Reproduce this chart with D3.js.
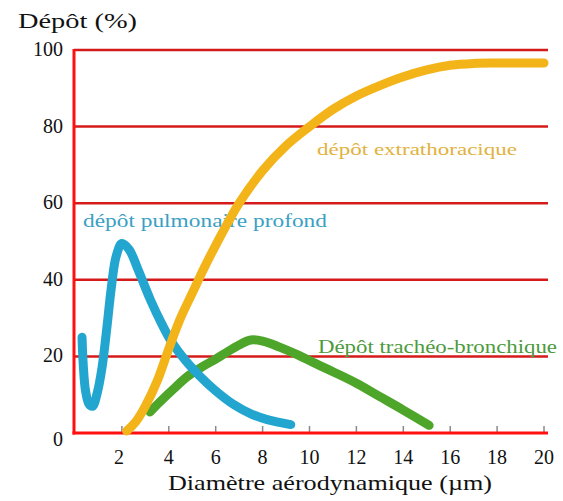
<!DOCTYPE html>
<html><head><meta charset="utf-8">
<script src="https://cdn.jsdelivr.net/npm/d3@7"></script>
<style>body{margin:0;background:#fff;}svg{display:block;}</style>
</head><body>
<svg id="c" width="563" height="501"></svg>
<script>
const xTicks = [2,4,6,8,10,12,14,16,18,20];
const yTicks = [0,20,40,60,80,100];
const extrathoracique = [[2.2,0.5],[2.6,3],[3,7],[3.5,13.5],[4,22],[4.5,30],[5,36.5],[5.5,43],[6,49],[7,60],[8,68.5],[9,75],[10,80],[11,84.5],[12,88],[13,90.7],[14,93],[15,94.8],[16,96],[17,96.5],[18,96.6],[20,96.6]];
const pulmonaire = [[0.3,25],[0.35,18],[0.45,11],[0.6,7.5],[0.75,7],[0.95,10.5],[1.15,17],[1.35,27],[1.55,38],[1.75,46],[2.0,49.5],[2.3,48],[2.7,42.5],[3.2,35],[3.7,28.5],[4.1,24],[4.7,19],[5.3,15],[6,11],[6.75,7.5],[7.5,5],[8.2,3.5],[9.2,2.2]];
const tracheo = [[3.2,5.5],[3.6,8],[4.2,11.5],[4.8,14.8],[5.4,17.2],[6,19.3],[6.5,21.2],[7,23],[7.5,24.3],[8,24],[8.7,22.5],[9.5,20.4],[10.2,18.3],[11,16],[12,13],[13,9.5],[14,6],[15.1,2]];
const labels = ["dépôt extrathoracique","dépôt pulmonaire profond","Dépôt trachéo-bronchique"];
const xTitle = "Diamètre aérodynamique (µm)";
const yTitle = "Dépôt (%)";

const svg = d3.select("#c");
const x = d3.scaleLinear().domain([0,20]).range([75,544]);
const y = d3.scaleLinear().domain([0,100]).range([433,50]);
const F = "Liberation Serif";

svg.append("g").selectAll("line").data(yTicks.filter(d=>d>0)).join("line")
  .attr("x1",74).attr("x2",548).attr("y1",d=>y(d)).attr("y2",d=>y(d))
  .attr("stroke","#d41a1a").attr("stroke-width",2.5);
svg.append("g").selectAll("line").data(xTicks).join("line")
  .attr("x1",d=>x(d)).attr("x2",d=>x(d)).attr("y1",426).attr("y2",433)
  .attr("stroke","#8a8a8a").attr("stroke-width",1.5);
svg.append("line").attr("x1",74).attr("x2",74).attr("y1",y(100)-1).attr("y2",y(0)+1.5)
  .attr("stroke","#ff1010").attr("stroke-width",3);
svg.append("line").attr("x1",72.5).attr("x2",548).attr("y1",y(0)).attr("y2",y(0))
  .attr("stroke","#ff1010").attr("stroke-width",3);

svg.append("g").selectAll("text").data(yTicks).join("text")
  .attr("x",63).attr("y",d=>y(d)+(d===0?13:6)).attr("text-anchor","end")
  .attr("font-family",F).attr("font-size",20).attr("fill","#111").text(d=>d);
svg.append("g").selectAll("text").data(xTicks).join("text")
  .attr("x",d=>x(d)-(d===2?3:0)).attr("y",464).attr("text-anchor","middle")
  .attr("font-family",F).attr("font-size",20).attr("fill","#111").text(d=>d);

function label(t, xx, yy, size, len, color){
  svg.append("text").attr("x",xx).attr("y",yy)
    .attr("font-family",F).attr("font-size",size)
    .attr("fill",color).attr("textLength",len).attr("lengthAdjust","spacingAndGlyphs").text(t);
}
label(yTitle,18,28,22,119,"#111");
label(xTitle,168,490,22,324,"#111");
label(labels[0],317,155,17,200,"#e2b23e");
label(labels[1],83,227,18,244,"#3aa0c4");
label(labels[2],318,353,18,239,"#4c9a3c");

const line = d3.line().x(d=>x(d[0])).y(d=>y(d[1])).curve(d3.curveCatmullRom.alpha(0.5));
const series = [[tracheo,"#4da52a"],[pulmonaire,"#22a5cf"],[extrathoracique,"#f3b419"]];
svg.append("g").selectAll("path").data(series).join("path")
  .attr("d",d=>line(d[0])).attr("fill","none").attr("stroke",d=>d[1])
  .attr("stroke-width",9).attr("stroke-linecap","round").attr("stroke-linejoin","round");
</script>
</body></html>
